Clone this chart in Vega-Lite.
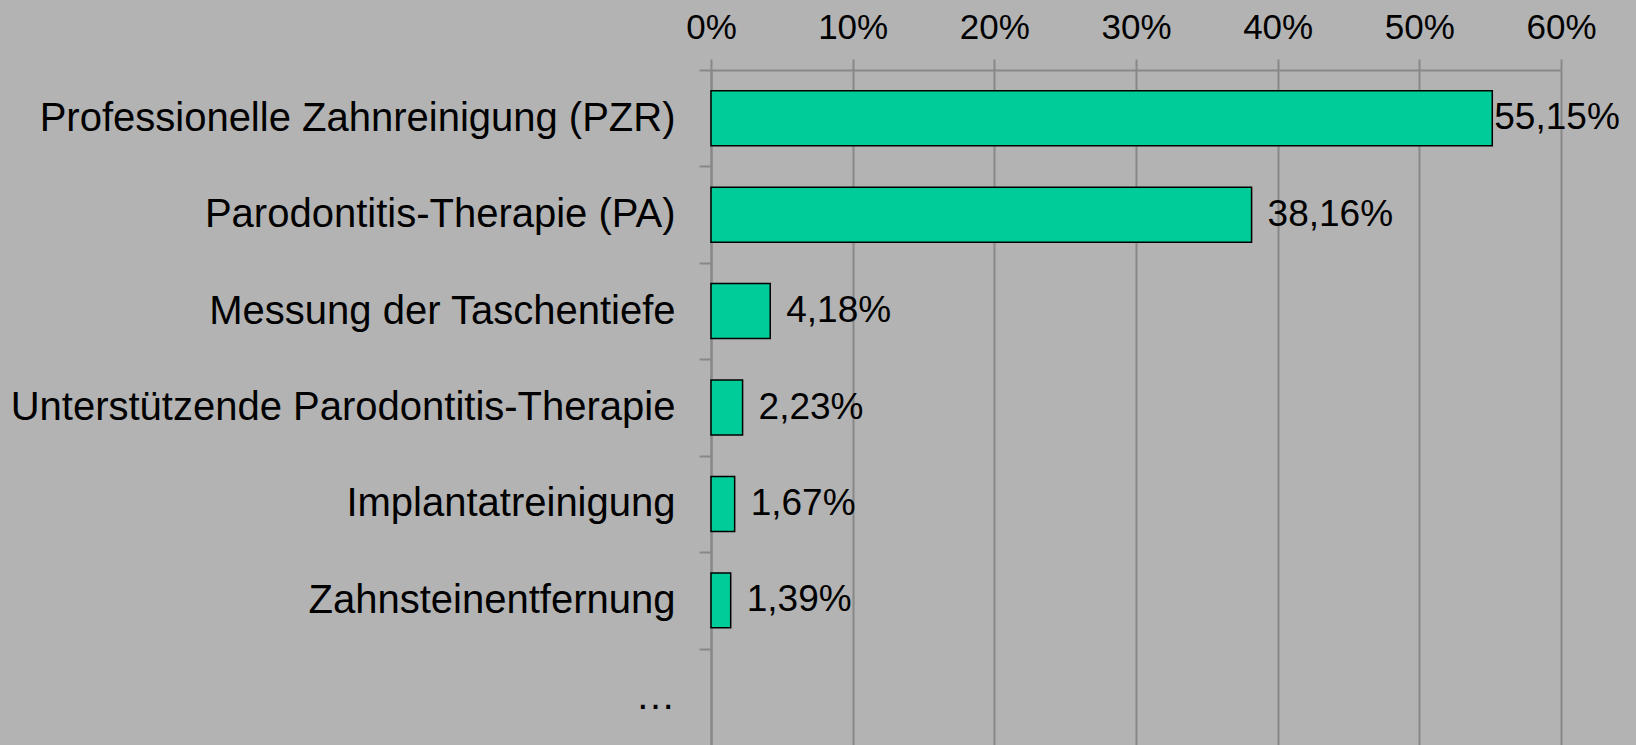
{
  "$schema": "https://vega.github.io/schema/vega-lite/v6.json",
  "width": 850,
  "height": 675,
  "autosize": {"type": "none"},
  "padding": {"left": 711, "top": 70, "right": 75, "bottom": 0},
  "background": "#b3b3b3",
  "config": {
    "view": {"stroke": null},
    "font": "Liberation Sans",
    "axis": {"labelColor": "#000000", "title": null}
  },
  "data": {
    "values": [
      {"kategorie": "Professionelle Zahnreinigung (PZR)", "anteil": 0.5515, "label": "55,15%"},
      {"kategorie": "Parodontitis-Therapie (PA)", "anteil": 0.3816, "label": "38,16%"},
      {"kategorie": "Messung der Taschentiefe", "anteil": 0.0418, "label": "4,18%"},
      {"kategorie": "Unterstützende Parodontitis-Therapie", "anteil": 0.0223, "label": "2,23%"},
      {"kategorie": "Implantatreinigung", "anteil": 0.0167, "label": "1,67%"},
      {"kategorie": "Zahnsteinentfernung", "anteil": 0.0139, "label": "1,39%"},
      {"kategorie": "…", "anteil": null, "label": ""}
    ]
  },
  "encoding": {
    "y": {
      "field": "kategorie",
      "type": "nominal",
      "sort": null,
      "scale": {
        "domain": [
          "Professionelle Zahnreinigung (PZR)",
          "Parodontitis-Therapie (PA)",
          "Messung der Taschentiefe",
          "Unterstützende Parodontitis-Therapie",
          "Implantatreinigung",
          "Zahnsteinentfernung",
          "…"
        ],
        "paddingInner": 0.43,
        "paddingOuter": 0.215
      },
      "axis": {
        "title": null,
        "grid": false,
        "ticks": true,
        "tickOffset": -48.214,
        "labelOffset": 48.214,
        "tickSize": 12,
        "tickColor": "#888888",
        "tickWidth": 2,
        "domain": true,
        "domainColor": "#888888",
        "domainWidth": 2,
        "labelFontSize": 40,
        "labelPadding": 24,
        "labelLimit": 1000,
        "labelColor": "#000000"
      }
    }
  },
  "layer": [
    {
      "mark": {"type": "bar", "fill": "#00cc99", "stroke": "#000000", "strokeWidth": 1.5},
      "encoding": {
        "x": {
          "field": "anteil",
          "type": "quantitative",
          "scale": {"domain": [0, 0.6], "nice": false},
          "axis": {
            "orient": "top",
            "title": null,
            "format": ".0%",
            "values": [0, 0.1, 0.2, 0.3, 0.4, 0.5, 0.6],
            "grid": true,
            "gridColor": "#888888",
            "gridWidth": 2,
            "gridOpacity": 1,
            "ticks": true,
            "tickSize": 11,
            "tickColor": "#888888",
            "tickWidth": 2,
            "domain": true,
            "domainColor": "#888888",
            "domainWidth": 2,
            "labelFontSize": 35,
            "labelBaseline": "alphabetic",
            "labelPadding": 21,
            "labelFlush": false,
            "labelOverlap": false,
            "labelColor": "#000000"
          }
        }
      }
    },
    {
      "transform": [{"filter": "isValid(datum.anteil) && datum.anteil < 0.5"}],
      "mark": {"type": "text", "align": "left", "baseline": "middle", "dx": 16, "fontSize": 37, "color": "#000000"},
      "encoding": {
        "x": {"field": "anteil", "type": "quantitative"},
        "text": {"field": "label"}
      }
    },
    {
      "transform": [{"filter": "isValid(datum.anteil) && datum.anteil >= 0.5"}],
      "mark": {"type": "text", "align": "left", "baseline": "middle", "dx": 2, "fontSize": 37, "color": "#000000"},
      "encoding": {
        "x": {"field": "anteil", "type": "quantitative"},
        "text": {"field": "label"}
      }
    }
  ]
}
